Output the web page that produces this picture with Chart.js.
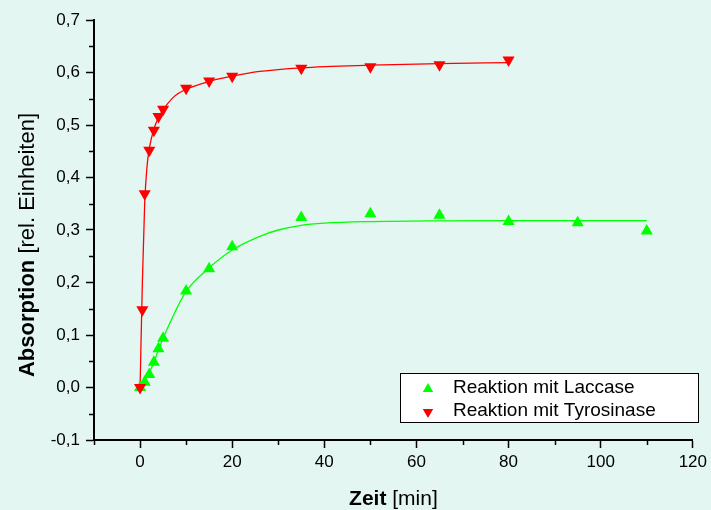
<!DOCTYPE html>
<html>
<head>
<meta charset="utf-8">
<script src="https://cdn.jsdelivr.net/npm/chart.js@4"></script>
<style>
  html, body { margin: 0; padding: 0; background: #e4f6f2; }
  canvas { display: block; }
</style>
</head>
<body>
<canvas id="myChart" width="711" height="510"></canvas>
<script>
// messwerte
var laccaseZeit = [0, 1, 2, 3, 4, 5, 10, 15, 20, 35, 50, 65, 80, 95, 110];
var laccaseAbs = [0, 0.01, 0.025, 0.048, 0.074, 0.094, 0.184, 0.226, 0.268, 0.324, 0.331, 0.328, 0.316, 0.314, 0.298];

var tyrosinaseZeit = [0, 0.5, 1, 2, 3, 4, 5, 10, 15, 20, 35, 50, 65, 80];
var tyrosinaseAbs = [0, 0.148, 0.369, 0.452, 0.49, 0.516, 0.53, 0.57, 0.584, 0.593, 0.608, 0.611, 0.615, 0.624];

// fitkurven
var laccaseFitZeit = [0, 1, 2, 3, 4, 5, 7.5, 10, 15, 20, 26, 30, 35, 40, 50, 65, 80, 110];
var laccaseFitAbs = [0, 0.012, 0.028, 0.048, 0.072, 0.094, 0.142, 0.183, 0.228, 0.262, 0.288, 0.300, 0.309, 0.313, 0.316, 0.3175, 0.318, 0.318];

var tyrosinaseFitZeit = [0, 0.5, 1, 1.5, 2, 3, 4, 5, 7.5, 10, 15, 20, 26, 35, 50, 65, 80];
var tyrosinaseFitAbs = [0, 0.2, 0.35, 0.42, 0.455, 0.492, 0.514, 0.529, 0.555, 0.568, 0.583, 0.593, 0.602, 0.609, 0.614, 0.617, 0.619];

var xTicks = [0, 20, 40, 60, 80, 100, 120];
var yTicks = [-0.1, 0, 0.1, 0.2, 0.3, 0.4, 0.5, 0.6, 0.7];
var xMinorTicks = [-10, 10, 30, 50, 70, 90, 110];
var yMinorTicks = [-0.05, 0.05, 0.15, 0.25, 0.35, 0.45, 0.55, 0.65];

var seriesNames = ['Reaktion mit Laccase', 'Reaktion mit Tyrosinase'];

var FONT = '"Liberation Sans", Arial, sans-serif';

function punkte(xs, ys) {
    var out = [];
    for (var i = 0; i < xs.length; i++) {
        out.push({ x: xs[i], y: ys[i] });
    }
    return out;
}

function dreieck(ctx, x, y, r, unten, farbe) {
    var s = unten ? 1 : -1;
    ctx.beginPath();
    ctx.moveTo(x, y + s * r);
    ctx.lineTo(x - r * 0.866, y - s * r * 0.5);
    ctx.lineTo(x + r * 0.866, y - s * r * 0.5);
    ctx.closePath();
    ctx.fillStyle = farbe;
    ctx.fill();
}

var extras = {
    id: 'extras',
    afterDraw: function (chart) {
        var ctx = chart.ctx;
        var xs = chart.scales.x, ys = chart.scales.y;
        ctx.save();

        // kleine ticks
        ctx.strokeStyle = '#000';
        ctx.lineWidth = 1.5;
        ctx.beginPath();
        xMinorTicks.forEach(function (v) {
            var px = Math.round(xs.getPixelForValue(v)) + 0.5;
            ctx.moveTo(px, ys.bottom);
            ctx.lineTo(px, ys.bottom + 5);
        });
        yMinorTicks.forEach(function (v) {
            var py = Math.round(ys.getPixelForValue(v)) + 0.5;
            ctx.moveTo(xs.left, py);
            ctx.lineTo(xs.left - 5, py);
        });
        ctx.stroke();

        // legende
        ctx.fillStyle = '#fff';
        ctx.fillRect(400, 373, 299, 50);
        ctx.strokeStyle = '#000';
        ctx.lineWidth = 1;
        ctx.strokeRect(400.5, 373.5, 298, 49);
        dreieck(ctx, 428, 389, 6, false, '#00ff00');
        dreieck(ctx, 428, 412, 6, true, '#ff0000');
        ctx.fillStyle = '#000';
        ctx.font = '19px ' + FONT;
        ctx.textBaseline = 'middle';
        ctx.textAlign = 'left';
        ctx.fillText(seriesNames[0], 453, 388);
        ctx.fillText(seriesNames[1], 453, 411);

        // achsentitel x
        ctx.textBaseline = 'alphabetic';
        var fb = 'bold 21px ' + FONT, fn = '21px ' + FONT;
        ctx.font = fb;
        var w1 = ctx.measureText('Zeit').width;
        ctx.font = fn;
        var w2 = ctx.measureText(' [min]').width;
        var x0 = (xs.left + xs.right) / 2 - (w1 + w2) / 2;
        ctx.font = fb;
        ctx.fillText('Zeit', x0, 505);
        ctx.font = fn;
        ctx.fillText(' [min]', x0 + w1, 505);

        // achsentitel y
        fb = 'bold 22px ' + FONT;
        fn = '22px ' + FONT;
        ctx.translate(34, 0);
        ctx.rotate(-Math.PI / 2);
        ctx.font = fb;
        w1 = ctx.measureText('Absorption').width;
        ctx.font = fn;
        w2 = ctx.measureText(' [rel. Einheiten]').width;
        var y0 = -245 - (w1 + w2) / 2;
        ctx.font = fb;
        ctx.fillText('Absorption', y0, 0);
        ctx.font = fn;
        ctx.fillText(' [rel. Einheiten]', y0 + w1, 0);

        ctx.restore();
    }
};

new Chart(document.getElementById('myChart'), {
    type: 'scatter',
    data: {
        datasets: [{
            label: seriesNames[0],
            data: punkte(laccaseZeit, laccaseAbs),
            pointStyle: 'triangle',
            pointRadius: 7,
            backgroundColor: '#00ff00',
            borderColor: '#00ff00',
            borderWidth: 0,
            order: 1
        }, {
            label: seriesNames[1],
            data: punkte(tyrosinaseZeit, tyrosinaseAbs),
            pointStyle: 'triangle',
            rotation: 180,
            pointRadius: 7,
            backgroundColor: '#ff0000',
            borderColor: '#ff0000',
            borderWidth: 0,
            order: 0
        }, {
            label: 'fit laccase',
            data: punkte(laccaseFitZeit, laccaseFitAbs),
            showLine: true,
            pointRadius: 0,
            borderColor: '#00ff00',
            borderWidth: 1.3,
            cubicInterpolationMode: 'monotone',
            order: 3
        }, {
            label: 'fit tyrosinase',
            data: punkte(tyrosinaseFitZeit, tyrosinaseFitAbs),
            showLine: true,
            pointRadius: 0,
            borderColor: '#ff0000',
            borderWidth: 1.3,
            cubicInterpolationMode: 'monotone',
            order: 2
        }]
    },
    options: {
        responsive: false,
        animation: false,
        layout: { padding: { top: 20, right: 15, left: 0, bottom: 0 } },
        plugins: {
            legend: { display: false },
            tooltip: { enabled: false }
        },
        scales: {
            x: {
                type: 'linear',
                min: -10,
                max: 120,
                afterBuildTicks: function (s) { s.ticks = xTicks.map(function (v) { return { value: v }; }); },
                afterFit: function (s) { s.height = 70; },
                ticks: {
                    autoSkip: false, maxRotation: 0, color: '#000', padding: 4,
                    font: { family: FONT, size: 17 },
                    callback: function (v) { return String(v); }
                },
                grid: { drawOnChartArea: false, color: '#000', tickLength: 8, tickWidth: 1.5 },
                border: { color: '#000', width: 2 }
            },
            y: {
                type: 'linear',
                min: -0.1,
                max: 0.7,
                afterBuildTicks: function (s) { s.ticks = yTicks.map(function (v) { return { value: v }; }); },
                afterFit: function (s) { s.width = 94; },
                ticks: {
                    autoSkip: false, color: '#000', padding: 6,
                    font: { family: FONT, size: 17 },
                    callback: function (v) { return v.toFixed(1).replace('.', ','); }
                },
                grid: { drawOnChartArea: false, color: '#000', tickLength: 8, tickWidth: 1.5 },
                border: { color: '#000', width: 2 }
            }
        }
    },
    plugins: [extras]
});
</script>
</body>
</html>
